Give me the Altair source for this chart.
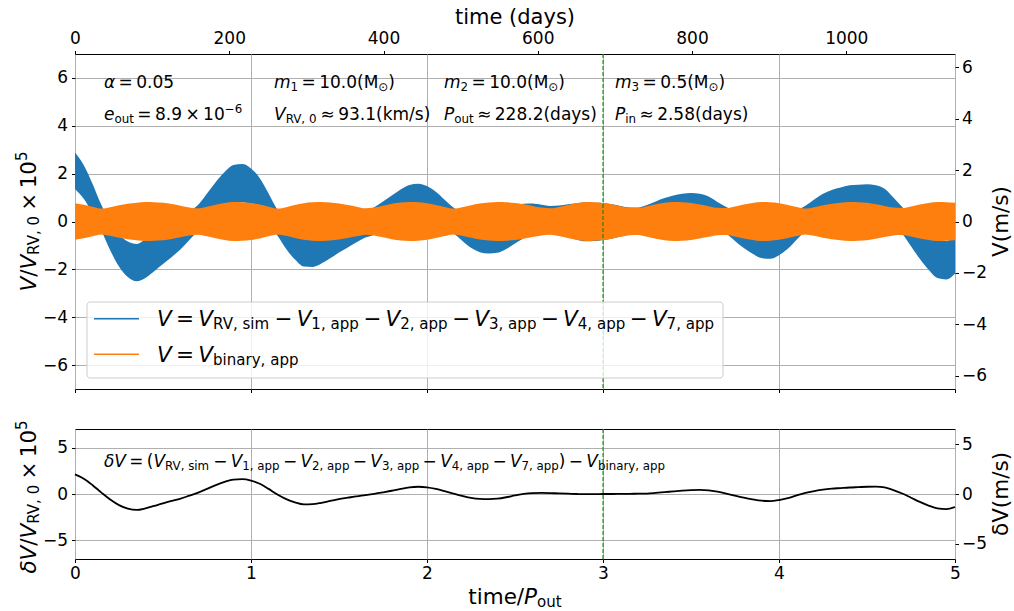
import altair as alt
import pandas as pd

# ---------------------------------------------------------------- data
P_OUT_DAYS = 228.2      # outer orbital period (days)
V_RV0_KMS = 93.1        # radial-velocity unit V_RV,0 (km/s)

# sample times in units of P_out
t_pout = [
    0.00, 0.05, 0.10, 0.15, 0.20, 0.25, 0.30, 0.35, 0.40, 0.45,
    0.50, 0.55, 0.60, 0.65, 0.70, 0.75, 0.80, 0.85, 0.90, 0.95,
    1.00, 1.05, 1.10, 1.15, 1.20, 1.25, 1.30, 1.35, 1.40, 1.45,
    1.50, 1.55, 1.60, 1.65, 1.70, 1.75, 1.80, 1.85, 1.90, 1.95,
    2.00, 2.05, 2.10, 2.15, 2.20, 2.25, 2.30, 2.35, 2.40, 2.45,
    2.50, 2.55, 2.60, 2.65, 2.70, 2.75, 2.80, 2.85, 2.90, 2.95,
    3.00, 3.05, 3.10, 3.15, 3.20, 3.25, 3.30, 3.35, 3.40, 3.45,
    3.50, 3.55, 3.60, 3.65, 3.70, 3.75, 3.80, 3.85, 3.90, 3.95,
    4.00, 4.05, 4.10, 4.15, 4.20, 4.25, 4.30, 4.35, 4.40, 4.45,
    4.50, 4.55, 4.60, 4.65, 4.70, 4.75, 4.80, 4.85, 4.90, 4.95,
    5.00,
]

# residual dV / V_RV,0 x 1e5 (slow part of the signal)
dv_resid = [
    2.12, 1.65, 0.95, 0.15, -0.60, -1.20, -1.58, -1.72, -1.55, -1.28,
    -1.00, -0.75, -0.50, -0.18, 0.15, 0.55, 0.95, 1.30, 1.55, 1.60,
    1.45, 1.10, 0.55, -0.05, -0.55, -0.90, -1.12, -1.10, -0.95, -0.75,
    -0.55, -0.40, -0.25, -0.12, 0.02, 0.18, 0.35, 0.55, 0.72, 0.78,
    0.72, 0.55, 0.30, 0.05, -0.20, -0.42, -0.53, -0.55, -0.50, -0.35,
    -0.15, 0.02, 0.10, 0.12, 0.10, 0.06, 0.03, 0.00, -0.02, -0.02,
    0.00, 0.00, 0.01, 0.02, 0.03, 0.05, 0.12, 0.20, 0.28, 0.36,
    0.42, 0.45, 0.40, 0.25, 0.05, -0.18, -0.40, -0.58, -0.72, -0.76,
    -0.65, -0.45, -0.15, 0.12, 0.32, 0.48, 0.58, 0.64, 0.70, 0.74,
    0.78, 0.80, 0.72, 0.42, 0.05, -0.40, -0.85, -1.25, -1.55, -1.62,
    -1.40,
]

# half-width of the fast inner-binary oscillation (envelope)
binary_amp = [
    0.76, 0.70, 0.62, 0.54, 0.60, 0.68, 0.74, 0.78, 0.81, 0.80,
    0.78, 0.73, 0.66, 0.59, 0.55, 0.62, 0.70, 0.77, 0.81, 0.80,
    0.77, 0.71, 0.62, 0.54, 0.60, 0.69, 0.76, 0.80, 0.81, 0.79,
    0.75, 0.69, 0.62, 0.55, 0.58, 0.66, 0.74, 0.79, 0.81, 0.80,
    0.76, 0.69, 0.61, 0.54, 0.60, 0.68, 0.75, 0.79, 0.81, 0.80,
    0.77, 0.72, 0.65, 0.58, 0.55, 0.61, 0.69, 0.76, 0.81, 0.80,
    0.77, 0.72, 0.64, 0.57, 0.56, 0.64, 0.72, 0.78, 0.81, 0.80,
    0.77, 0.71, 0.64, 0.57, 0.56, 0.63, 0.71, 0.77, 0.81, 0.80,
    0.76, 0.69, 0.61, 0.54, 0.60, 0.68, 0.74, 0.78, 0.81, 0.80,
    0.78, 0.72, 0.65, 0.58, 0.56, 0.63, 0.71, 0.77, 0.81, 0.80,
    0.78,
]

marker_t = [3.0]                                # vertical marker (t / P_out)
x_ticks = [0, 1, 2, 3, 4, 5]
days_ticks = [0, 200, 400, 600, 800, 1000]
top_y_ticks = [-6, -4, -2, 0, 2, 4, 6]
top_ms_ticks = [-6, -4, -2, 0, 2, 4, 6]
bot_y_ticks = [-5, 0, 5]
bot_ms_ticks = [-5, 0, 5]
legend_colors = ["#1f77b4", "#ff7f0e"]

# ---------------------------------------------------------------- tables
Y_LIM = 7.0
MS_LIM = Y_LIM * V_RV0_KMS * 1e-5 * 1e3       # same range expressed in m/s
DAYS_MAX = 5 * P_OUT_DAYS

sig = pd.DataFrame({"t": t_pout, "dv": dv_resid, "amp": binary_amp})
sig["blue_hi"] = sig["dv"] + sig["amp"]
sig["blue_lo"] = sig["dv"] - sig["amp"]
sig["bin_hi"] = sig["amp"]
sig["bin_lo"] = -sig["amp"]
marker = pd.DataFrame({"t": marker_t})

FONT = "DejaVu Sans"
W, H_TOP, H_BOT = 880, 335, 130

# advance widths of DejaVu Sans (em units) for placing mixed-style text runs
EM = {" ": .318, "(": .390, ")": .390, ",": .318, ".": .318, "/": .337,
      "=": .838, "−": .838, "×": .838, "≈": .838, "⊙": .838,
      "M": .863, "P": .603, "R": .695, "V": .684,
      "a": .613, "b": .635, "d": .635, "e": .615, "i": .278, "k": .579,
      "m": .974, "n": .634, "o": .612, "p": .635, "r": .411, "s": .521,
      "t": .392, "u": .634, "y": .592, "α": .659, "δ": .612}
for _d in "0123456789":
    EM[_d] = .636


def run_width(text, size):
    return sum(EM.get(c, 0.6) for c in text) * size


def rich(parts, size, x0, y0, rotate=False, centre=False):
    """Lay out math-style text: (text, kind) runs, kind in i/r/op/sub/sup."""
    rows, cur = [], 0.0
    for text, kind in parts:
        fs = size * 0.7 if kind in ("sub", "sup") else size
        pad = 0.2 * size if kind == "op" else 0.0
        shift = 0.16 * size if kind == "sub" else (-0.43 * size if kind == "sup" else 0.0)
        rows.append((cur + pad, shift, text, fs, kind == "i"))
        cur += run_width(text, fs) + 2 * pad
    start = -cur / 2 if centre else 0.0
    out = []
    for off, shift, text, fs, it in rows:
        d = start + off
        if rotate:
            out.append(dict(px=x0 + shift, py=y0 - d, ang=270, txt=text, fs=fs, it=it))
        else:
            out.append(dict(px=x0 + d, py=y0 + shift, ang=0, txt=text, fs=fs, it=it))
    return out


def terms(first_sub):
    p = [("V", "i"), (first_sub, "sub")]
    for k in ["1", "2", "3", "4", "7"]:
        p += [("−", "op"), ("V", "i"), (k + ", app", "sub")]
    return p


# ---------------------------------------------------------------- text runs
top_rows = []
top_rows += rich([("α", "i"), ("=", "op"), ("0.05", "r")], 17, 29, 34)
top_rows += rich([("e", "i"), ("out", "sub"), ("=", "op"), ("8.9", "r"), ("×", "op"),
                  ("10", "r"), ("−6", "sup")], 17, 29, 66)
top_rows += rich([("m", "i"), ("1", "sub"), ("=", "op"), ("10.0(M", "r"), ("⊙", "sub"),
                  (" )", "r")], 17, 199, 34)
top_rows += rich([("V", "i"), ("RV, 0", "sub"), ("≈", "op"), ("93.1(km/s)", "r")], 17, 199, 66)
top_rows += rich([("m", "i"), ("2", "sub"), ("=", "op"), ("10.0(M", "r"), ("⊙", "sub"),
                  (" )", "r")], 17, 369, 34)
top_rows += rich([("P", "i"), ("out", "sub"), ("≈", "op"), ("228.2(days)", "r")], 17, 369, 66)
top_rows += rich([("m", "i"), ("3", "sub"), ("=", "op"), ("0.5(M", "r"), ("⊙", "sub"),
                  (" )", "r")], 17, 540, 34)
top_rows += rich([("P", "i"), ("in", "sub"), ("≈", "op"), ("2.58(days)", "r")], 17, 540, 66)
# legend entries
top_rows += rich([("V", "i"), ("=", "op")] + terms("RV, sim"), 21.5, 82, 272)
top_rows += rich([("V", "i"), ("=", "op"), ("V", "i"), ("binary, app", "sub")], 21.5, 82, 308)
# axis titles
top_rows += rich([("time (days)", "r")], 21, W / 2, -30, centre=True)
top_rows += rich([("V", "i"), ("/", "r"), ("V", "i"), ("RV, 0", "sub"), ("×", "op"),
                  ("10", "r"), ("5", "sup")], 21.5, -39, H_TOP / 2, rotate=True, centre=True)
top_rows += rich([("V(m/s)", "r")], 21.5, 933, H_TOP / 2, rotate=True, centre=True)

bot_rows = []
bot_rows += rich([("δV", "i"), ("=", "op"), ("(", "r")] + terms("RV, sim")
                 + [(")", "r"), ("−", "op"), ("V", "i"), ("binary, app", "sub")], 16.9, 29, 38)
bot_rows += rich([("time/", "r"), ("P", "i"), ("out", "sub")], 21.5, W / 2, 175, centre=True)
bot_rows += rich([("δV", "i"), ("/", "r"), ("V", "i"), ("RV, 0", "sub"), ("×", "op"),
                  ("10", "r"), ("5", "sup")], 21.5, -39, H_BOT / 2 + 3, rotate=True, centre=True)
bot_rows += rich([("δV(m/s)", "r")], 21.5, 933, H_BOT / 2, rotate=True, centre=True)


def text_layers(rows):
    base = alt.Chart(pd.DataFrame(rows)).encode(
        x=alt.X("px:Q", scale=None, axis=None),
        y=alt.Y("py:Q", scale=None, axis=None),
        text=alt.Text("txt:N"),
        size=alt.Size("fs:Q", scale=None, legend=None),
        angle=alt.Angle("ang:Q", scale=None, legend=None),
    )
    it = base.transform_filter("datum.it").mark_text(
        align="left", baseline="alphabetic", font=FONT, fontStyle="italic", color="black")
    rm = base.transform_filter("!datum.it").mark_text(
        align="left", baseline="alphabetic", font=FONT, color="black")
    return [it, rm]


# ---------------------------------------------------------------- axes helpers
def x_axis(labels):
    return alt.Axis(values=x_ticks, labels=labels, title=None, grid=True, format="d",
                    labelFlush=False, labelPadding=3, ticks=True)


def y_axis(values):
    return alt.Axis(values=values, title=None, grid=True, format="d", labelFlush=False,
                    labelPadding=4)


x_scale = alt.Scale(domain=[0, 5], nice=False, zero=False)
y_scale = alt.Scale(domain=[-Y_LIM, Y_LIM], nice=False, zero=False)
ms_scale = alt.Scale(domain=[-MS_LIM, MS_LIM], nice=False, zero=False)


def ms_layer(values):
    return alt.Chart(pd.DataFrame({"ms": values})).mark_point(opacity=0).encode(
        y=alt.Y("ms:Q", scale=ms_scale,
                axis=alt.Axis(orient="right", values=values, title=None, grid=False,
                              format="d", labelFlush=False, labelPadding=3)))


green_rule = alt.Chart(marker).mark_rule(color="green", strokeWidth=1, strokeDash=[4, 2]).encode(
    x=alt.X("t:Q", scale=x_scale))

# ---------------------------------------------------------------- top panel
blue_band = alt.Chart(sig).mark_area(color=legend_colors[0], interpolate="monotone").encode(
    x=alt.X("t:Q", scale=x_scale, axis=x_axis(False)),
    y=alt.Y("blue_hi:Q", scale=y_scale, axis=y_axis(top_y_ticks)),
    y2="blue_lo:Q",
)
orange_band = alt.Chart(sig).mark_area(color=legend_colors[1], interpolate="monotone").encode(
    x=alt.X("t:Q", scale=x_scale),
    y=alt.Y("bin_hi:Q", scale=y_scale),
    y2="bin_lo:Q",
)
top_data = alt.layer(blue_band, orange_band, green_rule)

days_layer = alt.Chart(pd.DataFrame({"days": days_ticks})).mark_point(opacity=0).encode(
    x=alt.X("days:Q", scale=alt.Scale(domain=[0, DAYS_MAX], nice=False, zero=False),
            axis=alt.Axis(orient="top", values=days_ticks, title=None, grid=False,
                          format="d", labelFlush=False, labelPadding=3)))

legend_box = alt.Chart(pd.DataFrame([{"x": 12, "x2": 648, "y": 248, "y2": 324}])).mark_rect(
    fill="white", fillOpacity=0.8, stroke="#cccccc", strokeWidth=1, cornerRadius=3).encode(
    x=alt.X("x:Q", scale=None, axis=None), x2="x2:Q",
    y=alt.Y("y:Q", scale=None, axis=None), y2="y2:Q")
legend_lines = alt.Chart(pd.DataFrame({
    "x": [19, 19], "x2": [64, 64], "y": [264.7, 300.3], "c": legend_colors})).mark_rule(
    strokeWidth=1.5).encode(
    x=alt.X("x:Q", scale=None, axis=None), x2="x2:Q",
    y=alt.Y("y:Q", scale=None, axis=None),
    color=alt.Color("c:N", scale=None, legend=None))

top = alt.layer(top_data, days_layer, ms_layer(top_ms_ticks), legend_box, legend_lines,
                *text_layers(top_rows)).resolve_scale(x="independent", y="independent").properties(
    width=W, height=H_TOP)

# ---------------------------------------------------------------- bottom panel
dv_line = alt.Chart(sig).mark_line(color="black", strokeWidth=1.8, interpolate="monotone").encode(
    x=alt.X("t:Q", scale=x_scale, axis=x_axis(True)),
    y=alt.Y("dv:Q", scale=y_scale, axis=y_axis(bot_y_ticks)),
)
bot_data = alt.layer(dv_line, green_rule)

bottom = alt.layer(bot_data, ms_layer(bot_ms_ticks), *text_layers(bot_rows)).resolve_scale(
    x="independent", y="independent").properties(width=W, height=H_BOT)

chart = alt.vconcat(top, bottom, spacing=40, bounds="flush").properties(
    padding={"left": 14, "top": 6, "right": 0, "bottom": 0}
).configure_view(stroke="black", strokeWidth=1).configure_axis(
    labelFont=FONT, labelFontSize=17, labelColor="black", tickColor="black",
    tickWidth=1, tickSize=3.5, domain=False, gridColor="#b0b0b0", gridWidth=1,
    labelOverlap=False,
)

chart.save("out.html", embed_options={"renderer": "svg", "actions": False})
